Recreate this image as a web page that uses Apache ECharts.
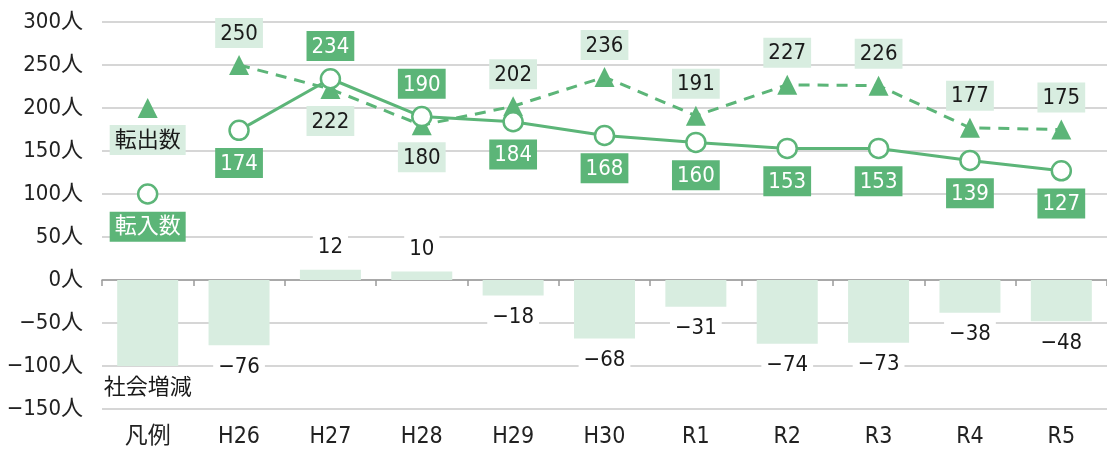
<!DOCTYPE html>
<html><head><meta charset="utf-8">
<script src="https://cdn.jsdelivr.net/npm/echarts@6/dist/echarts.min.js"></script>
<style>html,body{margin:0;padding:0;background:#fff}#c{width:1107px;height:452px}</style>
</head><body><div id="c"></div>
<script>
const categories = ['凡例','H26','H27','H28','H29','H30','R1','R2','R3','R4','R5'];
const socialChange = [-100, -76, 12, 10, -18, -68, -31, -74, -73, -38, -48];
const moveOut = [null, 250, 222, 180, 202, 236, 191, 227, 226, 177, 175];
const moveIn = [null, 174, 234, 190, 184, 168, 160, 153, 153, 139, 127];
const legendOutValue = 200;
const legendInValue = 100;
const legendNames = {out: '転出数', inn: '転入数', bar: '社会増減'};

const GREEN = '#5cb578';
const LIGHT = '#d8ede0';
const FONT = '"Liberation Sans Narrow","DejaVu Sans Condensed","Noto Sans CJK JP",sans-serif';
const minus = v => String(v).replace('-', '\u2212');

const barData = socialChange.map((v, i) => ({
  value: v,
  label: {position: v >= 0 ? 'top' : 'bottom'}
}));
const outData = moveOut.map((v, i) => v == null ? null : ({
  value: v, label: {position: v >= moveIn[i] ? 'top' : 'bottom'}
}));
const inData = moveIn.map((v, i) => v == null ? null : ({
  value: v, label: {position: v > moveOut[i] ? 'top' : 'bottom'}
}));
const legendOut = categories.map((c, i) => i === 0 ? legendOutValue : null);
const legendIn = categories.map((c, i) => i === 0 ? legendInValue : null);

const outLabel = {show: true, fontSize: 22, fontFamily: FONT, color: '#1a1a1a', backgroundColor: LIGHT, padding: [5, 5, 3, 5], distance: 7};
const inLabel = {show: true, fontSize: 22, fontFamily: FONT, color: '#fff', backgroundColor: GREEN, padding: [5, 5, 3, 5], distance: 7};

const chart = echarts.init(document.getElementById('c'), null, {renderer: 'canvas'});
chart.setOption({
  animation: false,
  grid: {left: 102, right: 0, top: 22, bottom: 43, containLabel: false},
  textStyle: {fontFamily: FONT},
  xAxis: [
    {type: 'category', data: categories, position: 'bottom',
     axisLine: {show: false, onZero: false}, axisTick: {show: false},
     axisLabel: {fontSize: 23, color: '#222', margin: 17, fontFamily: FONT}},
    {type: 'category', data: categories, position: 'bottom',
     axisLine: {show: true, onZero: true, lineStyle: {color: '#9a9a9a', width: 1.5}},
     axisTick: {show: true, length: 6, lineStyle: {color: '#9a9a9a', width: 1.5}},
     axisLabel: {show: false}}
  ],
  yAxis: {type: 'value', min: -150, max: 300, interval: 50,
    axisLine: {show: false}, axisTick: {show: false},
    splitLine: {lineStyle: {color: '#c8c8c8', width: 1.5}},
    axisLabel: {fontSize: 22, color: '#222', margin: 19, fontFamily: FONT,
      formatter: v => minus(v) + '人'}},
  series: [
    {name: legendNames.bar, type: 'bar', xAxisIndex: 0, data: barData, barWidth: 61,
     itemStyle: {color: LIGHT},
     label: {show: true, fontSize: 22, fontFamily: FONT, color: '#1a1a1a', backgroundColor: '#fff',
       padding: [3, 5], distance: 8,
       formatter: p => p.dataIndex === 0 ? legendNames.bar : minus(p.value)}},
    {name: legendNames.out, type: 'line', data: outData, symbol: 'triangle', symbolSize: 20,
     lineStyle: {color: GREEN, width: 3, type: [11, 8]}, itemStyle: {color: GREEN},
     label: outLabel, z: 3},
    {name: legendNames.in, type: 'line', data: inData, symbol: 'circle', symbolSize: 19,
     lineStyle: {color: GREEN, width: 3}, itemStyle: {color: '#fff', borderColor: GREEN, borderWidth: 2.5},
     label: inLabel, z: 4},
    {name: 'legendOut', type: 'line', data: legendOut, symbol: 'triangle', symbolSize: 20,
     itemStyle: {color: GREEN}, lineStyle: {width: 0},
     label: Object.assign({}, outLabel, {position: 'bottom', formatter: legendNames.out})},
    {name: 'legendIn', type: 'line', data: legendIn, symbol: 'circle', symbolSize: 19,
     itemStyle: {color: '#fff', borderColor: GREEN, borderWidth: 2.5}, lineStyle: {width: 0},
     label: Object.assign({}, inLabel, {position: 'bottom', formatter: legendNames.inn})}
  ]
});
</script></body></html>
